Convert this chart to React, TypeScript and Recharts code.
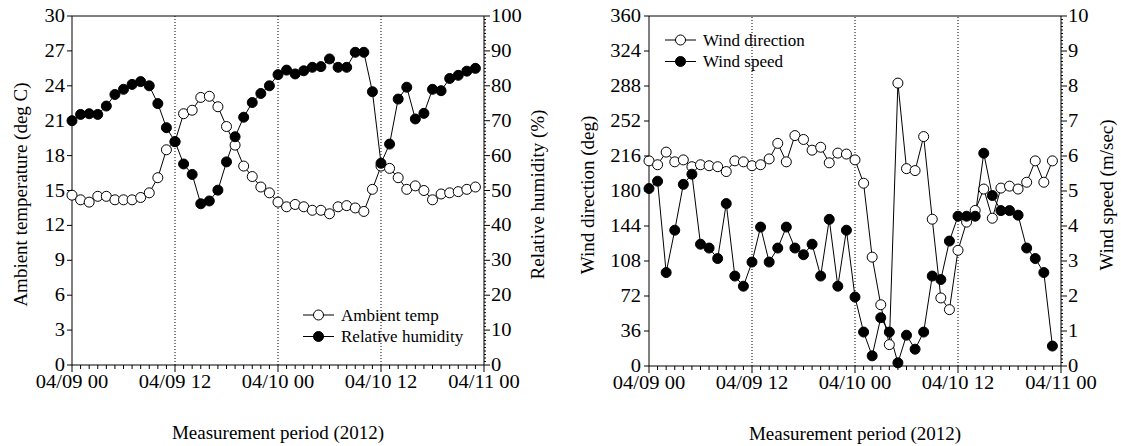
import React from 'react';
import { LineChart, Line, XAxis, YAxis, ReferenceLine, Legend } from 'recharts';

// Hourly samples, 04/09 00:00 through 04/10 23:00 (2012)
const hours = [
  0, 1, 2, 3, 4, 5, 6, 7, 8, 9, 10, 11, 12, 13, 14, 15, 16, 17, 18, 19, 20, 21, 22, 23,
  24, 25, 26, 27, 28, 29, 30, 31, 32, 33, 34, 35, 36, 37, 38, 39, 40, 41, 42, 43, 44, 45, 46, 47,
];

const ambientTemp = [
  14.6, 14.2, 14.0, 14.5, 14.5, 14.2, 14.2, 14.2, 14.4, 14.8, 16.1, 18.5,
  19.2, 21.6, 21.9, 23.0, 23.1, 22.2, 20.5, 18.9, 17.1, 16.2, 15.3, 14.8,
  14.0, 13.6, 13.8, 13.6, 13.3, 13.3, 13.0, 13.6, 13.7, 13.5, 13.2, 15.1,
  17.1, 16.9, 16.1, 15.1, 15.4, 15.0, 14.2, 14.7, 14.8, 14.9, 15.1, 15.3,
];

const relativeHumidity = [
  70.0, 71.8, 72.0, 71.8, 74.2, 77.5, 79.0, 80.4, 81.2, 80.0, 74.9, 68.0,
  64.0, 57.6, 54.6, 46.2, 47.0, 50.1, 58.2, 65.4, 71.0, 75.2, 77.8, 80.0,
  83.2, 84.5, 83.4, 84.3, 85.3, 85.5, 87.7, 85.3, 85.3, 89.6, 89.6, 78.3,
  57.8, 63.3, 76.2, 79.6, 70.5, 72.1, 79.0, 78.6, 82.1, 83.0, 84.2, 85.0,
];

const windDirection = [
  211, 207, 220, 210, 212, 205, 207, 206, 205, 200, 211, 210,
  206, 207, 213, 229, 210, 237, 233, 222, 225, 209, 219, 218,
  212, 188, 112, 63, 22, 291, 203, 201, 236, 151, 70, 58,
  119, 148, 160, 182, 152, 183, 185, 182, 189, 211, 189, 211,
];

const windSpeed = [
  5.07, 5.28, 2.67, 3.88, 5.19, 5.48, 3.48, 3.37, 3.07, 4.64, 2.57, 2.28,
  2.97, 3.97, 2.97, 3.37, 3.97, 3.37, 3.18, 3.48, 2.57, 4.19, 2.28, 3.88,
  1.97, 0.97, 0.29, 1.38, 0.97, 0.09, 0.88, 0.48, 0.97, 2.57, 2.47, 3.57,
  4.28, 4.28, 4.28, 6.08, 4.87, 4.44, 4.44, 4.31, 3.37, 3.07, 2.67, 0.57,
];

const timeLabels = ['04/09 00', '04/09 12', '04/10 00', '04/10 12', '04/11 00'];
const tempTicks = [0, 3, 6, 9, 12, 15, 18, 21, 24, 27, 30];
const directionTicks = [0, 36, 72, 108, 144, 180, 216, 252, 288, 324, 360];
const dayMarks = [12, 24, 36];

const climateRows = hours.map((h, i) => ({
  hour: h,
  temp: ambientTemp[i],
  rh: relativeHumidity[i],
}));

const windRows = hours.map((h, i) => ({
  hour: h,
  direction: windDirection[i],
  speed: windSpeed[i],
}));

// axis tick positions: hourly minor ticks on the time axis, fine minor ticks on the right axes
const hourTicks = Array.from({ length: 49 }, (_, i) => i);
const humidityTicks = Array.from({ length: 101 }, (_, i) => i);
const speedTicks = Array.from({ length: 101 }, (_, i) => i / 10);

const FONT = "'Liberation Serif', 'Times New Roman', Times, serif";
const TICK_FONT = 18;
const TICK_STRETCH = 1.14;

function TimeTick(props: any) {
  const { x, y, payload } = props;
  const v = Number(payload.value);
  const major = v % 12 === 0;
  return (
    <g>
      <line x1={x} x2={x} y1={y} y2={y + (major ? 7 : 4)} stroke="#000" strokeWidth={1} />
      {major && (
        <text
          x={0}
          y={0}
          transform={`translate(${x},${y + 23}) scale(${TICK_STRETCH},1)`}
          textAnchor="middle"
          fontSize={TICK_FONT}
          fontFamily={FONT}
          fill="#000"
        >
          {timeLabels[v / 12]}
        </text>
      )}
    </g>
  );
}

function LeftTick(props: any) {
  const { x, y, payload, gap } = props;
  return (
    <g>
      <line x1={x - 5} x2={x} y1={y} y2={y} stroke="#000" strokeWidth={1} />
      <text
        x={0}
        y={0}
        transform={`translate(${x - (gap ?? 7)},${y + 6}) scale(${TICK_STRETCH},1)`}
        textAnchor="end"
        fontSize={TICK_FONT}
        fontFamily={FONT}
        fill="#000"
      >
        {payload.value}
      </text>
    </g>
  );
}

function RightTick(props: any) {
  const { x, y, payload, majorStep, gap } = props;
  const v = Number(payload.value);
  const q = v / majorStep;
  const major = Math.abs(q - Math.round(q)) < 1e-6;
  return (
    <g>
      <line x1={x} x2={x + (major ? 6 : 2)} y1={y} y2={y} stroke="#000" strokeWidth={1} />
      {major && (
        <text
          x={0}
          y={0}
          transform={`translate(${x + gap},${y + 6}) scale(${TICK_STRETCH},1)`}
          textAnchor="start"
          fontSize={TICK_FONT}
          fontFamily={FONT}
          fill="#000"
        >
          {Math.round(v)}
        </text>
      )}
    </g>
  );
}

const verticalTitle = (text: string, dx: number) => (props: any) => {
  const vb = props.viewBox || { x: 0, y: 0, width: 0, height: 0 };
  const cx = vb.x + dx;
  const cy = vb.y + vb.height / 2 + 4;
  return (
    <text
      x={cx}
      y={cy}
      transform={`rotate(-90 ${cx} ${cy})`}
      textAnchor="middle"
      dominantBaseline="central"
      fontSize={19}
      fontFamily={FONT}
      fill="#000"
    >
      {text}
    </text>
  );
};

const bottomTitle = (text: string) => (props: any) => {
  const vb = props.viewBox || { x: 0, y: 0, width: 0, height: 0 };
  return (
    <text
      x={vb.x + vb.width / 2}
      y={vb.y + 67}
      textAnchor="middle"
      dominantBaseline="central"
      fontSize={19}
      fontFamily={FONT}
      fill="#000"
    >
      {text}
    </text>
  );
};

function SeriesKey({ items }: { items: { name: string; filled: boolean }[] }) {
  return (
    <svg width={190} height={46} style={{ display: 'block', overflow: 'visible' }}>
      {items.map((it, i) => {
        const cy = 12 + i * 21.5;
        return (
          <g key={it.name}>
            <line x1={0} x2={31} y1={cy} y2={cy} stroke="#000" strokeWidth={1} />
            <circle cx={15.5} cy={cy} r={5} fill={it.filled ? '#000' : '#fff'} stroke="#000" strokeWidth={1} />
            <text x={38} y={cy + 5.5} fontSize={17} fontFamily={FONT} fill="#000">
              {it.name}
            </text>
          </g>
        );
      })}
    </svg>
  );
}

const openDot = { r: 5, fill: '#fff', stroke: '#000', strokeWidth: 1 };
const solidDot = { r: 5, fill: '#000', stroke: '#000', strokeWidth: 1 };

function ClimatePanel() {
  return (
    <LineChart width={560} height={446} data={climateRows} margin={{ top: 16, right: 0, bottom: 0, left: 0 }}>
      <XAxis
        xAxisId="t"
        dataKey="hour"
        type="number"
        domain={[0, 48]}
        ticks={hourTicks}
        interval={0}
        tickLine={false}
        tickSize={0}
        tickMargin={0}
        tick={<TimeTick />}
        height={81}
        axisLine={{ stroke: '#000', strokeWidth: 1 }}
        label={{ content: bottomTitle('Measurement period (2012)') }}
      />
      <YAxis
        yAxisId="temp"
        type="number"
        domain={[0, 30]}
        ticks={tempTicks}
        interval={0}
        tickLine={false}
        tickSize={0}
        tickMargin={0}
        tick={<LeftTick gap={7} />}
        width={72}
        axisLine={{ stroke: '#000', strokeWidth: 1 }}
        label={{ content: verticalTitle('Ambient temperature (deg C)', 20) }}
      />
      <YAxis
        yAxisId="rh"
        orientation="right"
        type="number"
        domain={[0, 100]}
        ticks={humidityTicks}
        interval={0}
        tickLine={false}
        tickSize={0}
        tickMargin={0}
        tick={<RightTick majorStep={10} gap={7} />}
        width={76}
        axisLine={{ stroke: '#000', strokeWidth: 1 }}
        label={{ content: verticalTitle('Relative humidity (%)', 53) }}
      />
      {dayMarks.map((d) => (
        <ReferenceLine key={d} xAxisId="t" yAxisId="temp" x={d} stroke="#000" strokeWidth={1} strokeDasharray="1 2" />
      ))}
      <ReferenceLine xAxisId="t" yAxisId="temp" y={30} stroke="#000" strokeWidth={1} />
      <Line
        xAxisId="t"
        yAxisId="temp"
        dataKey="temp"
        name="Ambient temp"
        stroke="#000"
        strokeWidth={1}
        dot={openDot}
        isAnimationActive={false}
      />
      <Line
        xAxisId="t"
        yAxisId="rh"
        dataKey="rh"
        name="Relative humidity"
        stroke="#000"
        strokeWidth={1}
        dot={solidDot}
        isAnimationActive={false}
      />
      <Legend
        layout="vertical"
        align="center"
        verticalAlign="middle"
        wrapperStyle={{ left: 303, top: 303, width: 190, height: 46 }}
        content={() => (
          <SeriesKey
            items={[
              { name: 'Ambient temp', filled: false },
              { name: 'Relative humidity', filled: true },
            ]}
          />
        )}
      />
    </LineChart>
  );
}

function WindPanel() {
  return (
    <LineChart width={561} height={446} data={windRows} margin={{ top: 16, right: 0, bottom: 0, left: 0 }}>
      <XAxis
        xAxisId="t"
        dataKey="hour"
        type="number"
        domain={[0, 48]}
        ticks={hourTicks}
        interval={0}
        tickLine={false}
        tickSize={0}
        tickMargin={0}
        tick={<TimeTick />}
        height={80}
        axisLine={{ stroke: '#000', strokeWidth: 1 }}
        label={{ content: bottomTitle('Measurement period (2012)') }}
      />
      <YAxis
        yAxisId="dir"
        type="number"
        domain={[0, 360]}
        ticks={directionTicks}
        interval={0}
        tickLine={false}
        tickSize={0}
        tickMargin={0}
        tick={<LeftTick gap={8} />}
        width={89}
        axisLine={{ stroke: '#000', strokeWidth: 1 }}
        label={{ content: verticalTitle('Wind direction (deg)', 27) }}
      />
      <YAxis
        yAxisId="spd"
        orientation="right"
        type="number"
        domain={[0, 10]}
        ticks={speedTicks}
        interval={0}
        tickLine={false}
        tickSize={0}
        tickMargin={0}
        tick={<RightTick majorStep={1} gap={7} />}
        width={60}
        axisLine={{ stroke: '#000', strokeWidth: 1 }}
        label={{ content: verticalTitle('Wind speed (m/sec)', 45) }}
      />
      {dayMarks.map((d) => (
        <ReferenceLine key={d} xAxisId="t" yAxisId="dir" x={d} stroke="#000" strokeWidth={1} strokeDasharray="1 2" />
      ))}
      <ReferenceLine xAxisId="t" yAxisId="dir" y={360} stroke="#000" strokeWidth={1} />
      <Line
        xAxisId="t"
        yAxisId="dir"
        dataKey="direction"
        name="Wind direction"
        stroke="#000"
        strokeWidth={1}
        dot={openDot}
        isAnimationActive={false}
      />
      <Line
        xAxisId="t"
        yAxisId="spd"
        dataKey="speed"
        name="Wind speed"
        stroke="#000"
        strokeWidth={1}
        dot={solidDot}
        isAnimationActive={false}
      />
      <Legend
        layout="vertical"
        align="center"
        verticalAlign="middle"
        wrapperStyle={{ left: 105, top: 28, width: 190, height: 46 }}
        content={() => (
          <SeriesKey
            items={[
              { name: 'Wind direction', filled: false },
              { name: 'Wind speed', filled: true },
            ]}
          />
        )}
      />
    </LineChart>
  );
}

export default function App() {
  return (
    <div style={{ position: 'absolute', left: 0, top: 0, width: 1121, height: 446, background: '#fff' }}>
      <div style={{ position: 'absolute', left: 0, top: 0 }}>
        <ClimatePanel />
      </div>
      <div style={{ position: 'absolute', left: 560, top: 0 }}>
        <WindPanel />
      </div>
    </div>
  );
}
